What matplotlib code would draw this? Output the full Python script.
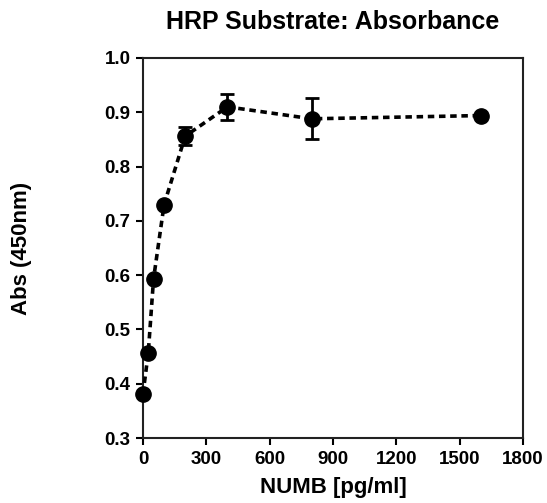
import matplotlib
matplotlib.use("Agg")
import matplotlib.pyplot as plt

conc = [0, 25, 50, 100, 200, 400, 800, 1600]
absorb = [0.381, 0.457, 0.593, 0.730, 0.856, 0.910, 0.888, 0.894]
err = [0.0, 0.0, 0.0, 0.0, 0.016, 0.024, 0.038, 0.0]
xticks = [0, 300, 600, 900, 1200, 1500, 1800]
yticks = [0.3, 0.4, 0.5, 0.6, 0.7, 0.8, 0.9, 1.0]

plt.rcParams['font.family'] = ['Liberation Sans', 'DejaVu Sans']
fig = plt.figure(figsize=(5.47, 5.03), dpi=100)
ax = fig.add_axes([0.2614, 0.1292, 0.6947, 0.7555])

ax.plot(conc, absorb, color='black', linestyle=(0, (1.8, 1.3)), linewidth=2.6,
        marker='o', markersize=11, clip_on=False, zorder=3)
ex = [c for c, e in zip(conc, err) if e > 0]
ey = [a for a, e in zip(absorb, err) if e > 0]
ee = [e for e in err if e > 0]
ax.errorbar(ex, ey, yerr=ee, fmt='none', ecolor='black', capsize=5,
            elinewidth=2, capthick=2, zorder=4)

ax.set_xlim(0, 1800)
ax.set_ylim(0.3, 1.0)
ax.set_xticks(xticks)
ax.set_yticks(yticks)
ax.set_yticklabels([f"{v:.1f}" for v in yticks])
ax.tick_params(direction='out', length=5, width=1.5, labelsize=13.5, pad=4)
for lab in ax.get_xticklabels() + ax.get_yticklabels():
    lab.set_fontweight('bold')
for s in ax.spines.values():
    s.set_linewidth(1.5)
    s.set_color('#222222')

ax.set_title("HRP Substrate: Absorbance", fontsize=18, fontweight='bold', pad=21)
ax.set_xlabel("NUMB [pg/ml]", fontsize=16, fontweight='bold', labelpad=7)
ax.set_ylabel("Abs (450nm)", fontsize=16, fontweight='bold')
ax.yaxis.set_label_coords(-0.292, 0.5)

fig.savefig("out.png", dpi=100)
